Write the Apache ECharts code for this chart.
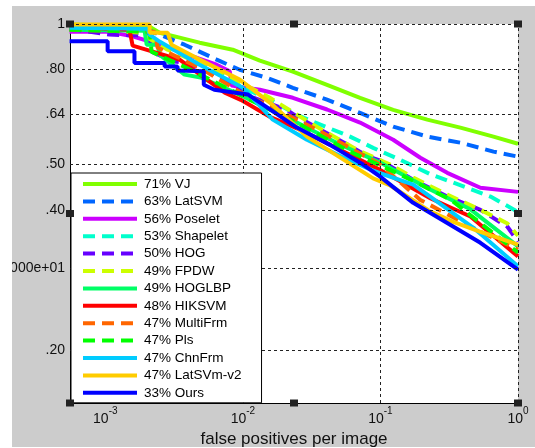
<!DOCTYPE html>
<html>
<head>
<meta charset="utf-8">
<script src="https://cdn.jsdelivr.net/npm/echarts@6/dist/echarts.min.js"></script>
<style>
html,body{margin:0;padding:0;background:#fff;}
#chart{width:535px;height:448px;}
</style>
</head>
<body>
<div id="chart"></div>
<script>
// ---- data (false positives per image, miss rate) ----
const methodNames = ['71% VJ','63% LatSVM','56% Poselet','53% Shapelet','50% HOG','49% FPDW','49% HOGLBP','48% HIKSVM','47% MultiFrm','47% Pls','47% ChnFrm','47% LatSVm-v2','33% Ours'];
const methodColors = ['#80ff00','#0066ff','#cc00ff','#00ffcc','#6600ff','#ccff00','#00ff66','#ff0000','#ff6600','#00ff00','#00ccff','#ffcc00','#0000ff'];
const methodDashed = [false,true,false,true,true,true,false,false,true,true,false,false,false];

const VJ = [[0.00055,0.997],[0.0021,0.987],[0.00248,0.958],[0.00347,0.935],[0.00485,0.912],[0.00844,0.881],[0.0133,0.835],[0.0231,0.791],[0.0409,0.741],[0.0711,0.695],[0.1238,0.655],[0.219,0.624],[0.381,0.60],[0.663,0.574],[1,0.554]];
const LatSVM = [[0.00055,0.982],[0.0021,0.968],[0.00377,0.903],[0.00645,0.839],[0.00949,0.798],[0.0149,0.767],[0.0231,0.73],[0.0409,0.689],[0.0711,0.645],[0.1238,0.603],[0.219,0.574],[0.381,0.557],[0.663,0.533],[1,0.52]];
const Poselet = [[0.00055,0.963],[0.00104,0.963],[0.00158,0.941],[0.00279,0.895],[0.00347,0.872],[0.00645,0.818],[0.00803,0.792],[0.0083,0.738],[0.0133,0.723],[0.0231,0.695],[0.0409,0.656],[0.0711,0.615],[0.1238,0.565],[0.195,0.517],[0.306,0.48],[0.533,0.446],[1,0.437]];
const Shapelet = [[0.00055,0.972],[0.0015,0.958],[0.00485,0.839],[0.01,0.73],[0.0157,0.689],[0.0247,0.639],[0.0323,0.618],[0.0601,0.574],[0.0885,0.543],[0.139,0.512],[0.23,0.477],[0.401,0.449],[0.631,0.427],[1,0.396]];
const HOG = [[0.00055,0.977],[0.00107,0.949],[0.0021,0.944],[0.00217,0.872],[0.00308,0.832],[0.0039,0.826],[0.00679,0.773],[0.0112,0.70],[0.0209,0.655],[0.0247,0.633],[0.039,0.588],[0.058,0.551],[0.0815,0.52],[0.1,0.51],[0.173,0.464],[0.306,0.427],[0.533,0.40],[0.838,0.368],[1,0.342]];
const FPDW = [[0.00055,0.982],[0.00177,0.958],[0.00284,0.881],[0.00679,0.79],[0.0157,0.695],[0.0323,0.609],[0.0676,0.538],[0.1177,0.50],[0.173,0.469],[0.306,0.431],[0.533,0.40],[0.838,0.374],[1,0.352]];
const HOGLBP = [[0.00055,0.972],[0.00193,0.967],[0.002,0.903],[0.0024,0.903],[0.00248,0.86],[0.00377,0.779],[0.00493,0.768],[0.00949,0.706],[0.0247,0.615],[0.0508,0.552],[0.0995,0.505],[0.23,0.442],[0.451,0.401],[1,0.334]];
const HIKSVM = [[0.00055,0.987],[0.0015,0.972],[0.00158,0.899],[0.00347,0.839],[0.00738,0.713],[0.00966,0.688],[0.0157,0.633],[0.026,0.594],[0.0508,0.538],[0.0995,0.487],[0.232,0.423],[0.451,0.387],[1,0.318]];
const MultiFrm = [[0.00055,0.972],[0.00228,0.963],[0.0024,0.89],[0.00485,0.806],[0.00949,0.716],[0.0346,0.594],[0.0995,0.50],[0.195,0.42],[0.533,0.359],[1,0.329]];
const Pls = [[0.00055,0.972],[0.0021,0.963],[0.00217,0.872],[0.0041,0.80],[0.00949,0.706],[0.026,0.609],[0.0601,0.533],[0.139,0.476],[0.322,0.421],[1,0.324]];
const ChnFrm = [[0.00055,0.982],[0.00203,0.977],[0.0021,0.949],[0.00248,0.917],[0.00485,0.818],[0.01,0.73],[0.0165,0.624],[0.0292,0.565],[0.0508,0.522],[0.0885,0.485],[0.173,0.453],[0.23,0.427],[0.474,0.366],[1,0.303]];
const LatSVm_v2 = [[0.00055,0.997],[0.0021,0.997],[0.0021,0.958],[0.00284,0.958],[0.00303,0.903],[0.00485,0.839],[0.00949,0.76],[0.0165,0.671],[0.0292,0.574],[0.0508,0.518],[0.0885,0.467],[0.1177,0.451],[0.23,0.397],[0.339,0.377],[0.533,0.359],[1,0.337]];
const Ours = [[0.00055,0.918],[0.00104,0.918],[0.00104,0.874],[0.00163,0.874],[0.00163,0.825],[0.0027,0.825],[0.0027,0.811],[0.00335,0.811],[0.00335,0.795],[0.0052,0.792],[0.0052,0.741],[0.0062,0.723],[0.0109,0.706],[0.014,0.672],[0.0247,0.60],[0.043,0.551],[0.0748,0.50],[0.0995,0.471],[0.173,0.414],[0.306,0.375],[0.533,0.34],[1,0.298]];

const xTickValues = [0.001, 0.01, 0.1, 1];
const yTickValues = [1, 0.8, 0.64, 0.5, 0.4, 0.3, 0.2];
const yTickLabels = ['1', '.80', '.64', '.50', '.40', '000e+01', '.20'];
const xRange = [0.000554, 1];
const yRange = [0.1543, 1];
const xAxisTitle = 'false positives per image';

// ---- layout / style ----
const W = 535, H = 448;
const GRID = {left: 70, right: 17, top: 24, bottom: 45};
const FONT = '"Liberation Sans", Arial, Helvetica, sans-serif';
const curves = [VJ, LatSVM, Poselet, Shapelet, HOG, FPDW, HOGLBP, HIKSVM, MultiFrm, Pls, ChnFrm, LatSVm_v2, Ours];

const chart = echarts.init(document.getElementById('chart'), null, {renderer: 'canvas', width: W, height: H});

const gridLineStyle = {color: '#222', width: 1, type: [3, 3]};
const gridSeries = {
  type: 'line', name: '__grid', data: [], silent: true, z: 1,
  markLine: {
    silent: true, symbol: ['none', 'none'], animation: false,
    lineStyle: gridLineStyle,
    data: [
      ...xTickValues.map(v => ({xAxis: v, label: {show: false}})),
      ...yTickValues.map((v, i) => ({
        yAxis: v,
        label: {show: true, position: 'start', distance: 5, formatter: yTickLabels[i],
                color: '#111', fontSize: 14, fontFamily: FONT}
      }))
    ]
  }
};

const lineSeries = curves.map((d, i) => ({
  type: 'line', name: methodNames[i], data: d,
  symbol: 'none', showSymbol: false, silent: true, z: 3 + i * 0.01,
  lineStyle: {color: methodColors[i], width: 4, type: methodDashed[i] ? [12, 7] : 'solid'},
  itemStyle: {color: methodColors[i]}
}));

const hx = [GRID.left, (GRID.left + W - GRID.right) / 2, W - GRID.right];
const hy = [GRID.top, (GRID.top + H - GRID.bottom) / 2, H - GRID.bottom];
const handles = [];
hx.forEach((x, i) => hy.forEach((y, j) => {
  if (i === 1 && j === 1) return;
  handles.push({type: 'rect', shape: {x: x - 4, y: y - 3.5, width: 8, height: 7}, style: {fill: '#222'}, z: 100, silent: true});
}));

chart.setOption({
  animation: false,
  backgroundColor: '#cccccc',
  grid: {left: GRID.left, right: GRID.right, top: GRID.top, bottom: GRID.bottom, outerBoundsMode: 'none', containLabel: false, show: true, backgroundColor: '#fff', borderWidth: 0},
  xAxis: {
    type: 'log', logBase: 10, min: xRange[0], max: xRange[1],
    name: xAxisTitle, nameLocation: 'middle', nameGap: 17,
    nameTextStyle: {fontSize: 17, fontFamily: FONT, color: '#111'},
    axisLine: {show: true, lineStyle: {color: '#000', width: 1}},
    axisTick: {show: false}, splitLine: {show: false},
    axisLabel: {
      margin: 3, color: '#111', fontFamily: FONT, verticalAlign: 'top',
      formatter: v => {
        const l = Math.log10(v), n = Math.round(l);
        if (Math.abs(l - n) > 1e-6) return '';
        return '{b|10}{s|' + n + '}';
      },
      rich: {
        b: {fontSize: 14, lineHeight: 20, verticalAlign: 'bottom', fontFamily: FONT, color: '#111'},
        s: {fontSize: 10, lineHeight: 10, verticalAlign: 'top', fontFamily: FONT, color: '#111'}
      }
    }
  },
  yAxis: {
    type: 'log', logBase: 10, min: yRange[0], max: yRange[1],
    axisLine: {show: true, lineStyle: {color: '#000', width: 1}},
    axisTick: {show: false}, splitLine: {show: false}, axisLabel: {show: false}
  },
  legend: {
    data: methodNames, orient: 'vertical', left: 71, top: 173,
    itemWidth: 54, itemHeight: 14, itemGap: 3.4,
    padding: [4, 20, 3, 10], backgroundColor: '#fff', borderColor: '#000', borderWidth: 1,
    lineStyle: {width: 4},
    itemStyle: {color: 'rgba(0,0,0,0)', borderWidth: 0, opacity: 0},
    selectedMode: false, z: 10,
    textStyle: {fontFamily: FONT, fontSize: 13.5, color: '#000', lineHeight: 14, padding: [0, 0, 0, 2]}
  },
  series: [gridSeries, ...lineSeries],
  graphic: [
    {type: 'rect', shape: {x: 0, y: 0, width: 12, height: H}, style: {fill: '#fff'}, z: 90, silent: true},
    {type: 'rect', shape: {x: 0, y: 0, width: W, height: 6}, style: {fill: '#fff'}, z: 90, silent: true},
    {type: 'rect', shape: {x: 0, y: H - 1, width: W, height: 1}, style: {fill: '#fff'}, z: 90, silent: true},
    ...handles
  ]
});
</script>
</body>
</html>
